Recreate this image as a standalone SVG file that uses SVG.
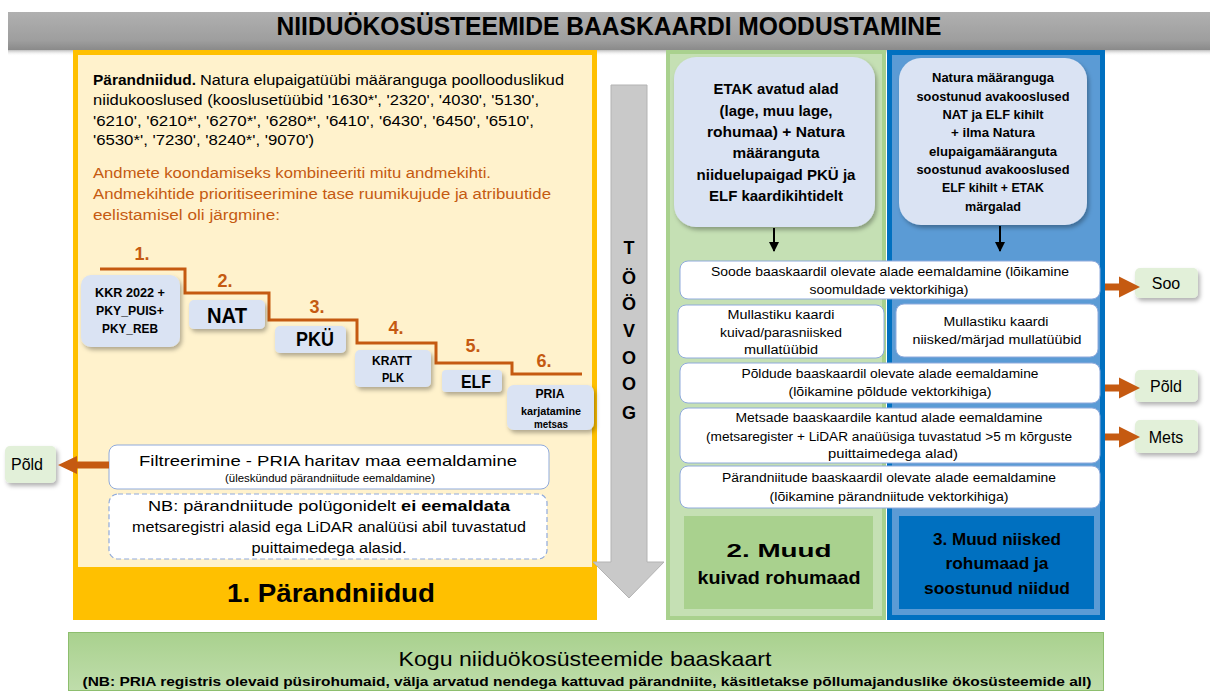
<svg xmlns="http://www.w3.org/2000/svg" width="1210" height="691" viewBox="0 0 1210 691">
  <defs>
    <style>
      text { font-family: "Liberation Sans", Arial, sans-serif; fill: #000; }
      .b { font-weight: bold; }
      .c { text-anchor: middle; }
      .or { fill: #C55A11; }
      .wbox { fill: #FFFFFF; stroke: #8FAADC; stroke-width: 1; }
      .lbox { fill: #DAE3F3; }
      .gbox { fill: #E2F0D9; }
      .step { fill: none; stroke: #C55A11; stroke-width: 3; }
    </style>
    <linearGradient id="titleGrad" x1="0" y1="0" x2="0" y2="1">
      <stop offset="0" stop-color="#B0B0B0"/>
      <stop offset="0.75" stop-color="#9E9E9E"/>
      <stop offset="1" stop-color="#8A8A8A"/>
    </linearGradient>
    <linearGradient id="shadeGrad" x1="0" y1="0" x2="0" y2="1">
      <stop offset="0" stop-color="#BDBDBD"/>
      <stop offset="1" stop-color="#FFFFFF" stop-opacity="0"/>
    </linearGradient>
    <linearGradient id="footGrad" x1="0" y1="0" x2="0" y2="1">
      <stop offset="0" stop-color="#A9D18E"/>
      <stop offset="1" stop-color="#BFDDAB"/>
    </linearGradient>
    <filter id="shadow" x="-20%" y="-20%" width="150%" height="160%">
      <feDropShadow dx="2" dy="3" stdDeviation="2" flood-color="#000" flood-opacity="0.3"/>
    </filter>
    <marker id="blackHead" viewBox="0 0 10 10" refX="9" refY="5" markerWidth="5" markerHeight="5" orient="auto">
      <path d="M0,0 L10,5 L0,10 Z" fill="#000"/>
    </marker>
    <!-- thick orange block arrow pointing right, origin at tail centre -->
    <path id="orangeArrow" d="M0,-3.5 H14 V-10.5 L35,0 L14,10.5 V3.5 H0 Z" fill="#C55A11"/>
  </defs>

  <rect width="1210" height="691" fill="#FFFFFF"/>

  <!-- title bar -->
  <g id="title">
    <rect x="8" y="50" width="1202" height="6" fill="url(#shadeGrad)"/>
    <rect x="8" y="12" width="1202" height="38" fill="url(#titleGrad)"/>
    <text x="609" y="35" class="b c" font-size="26" textLength="665" lengthAdjust="spacingAndGlyphs">NIIDUÖKOSÜSTEEMIDE BAASKAARDI MOODUSTAMINE</text>
  </g>

  <!-- column 1: heritage meadows -->
  <g id="panel-parandniidud">
    <rect x="75.5" y="52.5" width="519" height="565" fill="#FFF2CC" stroke="#FFC000" stroke-width="5"/>
    <rect x="73" y="567" width="524" height="53" fill="#FFC000"/>
    <text x="331" y="602" class="b c" font-size="26" textLength="208" lengthAdjust="spacingAndGlyphs">1. Pärandniidud</text>

    <text x="93" y="85" class="b" font-size="14" textLength="103" lengthAdjust="spacingAndGlyphs">Pärandniidud.</text>
    <text x="200" y="85" font-size="14" textLength="364" lengthAdjust="spacingAndGlyphs">Natura elupaigatüübi määranguga poollooduslikud</text>
    <text x="93" y="105" font-size="14" textLength="446" lengthAdjust="spacingAndGlyphs">niidukooslused (kooslusetüübid '1630*', '2320', '4030', '5130',</text>
    <text x="93" y="126" font-size="14" textLength="441" lengthAdjust="spacingAndGlyphs">'6210', '6210*', '6270*', '6280*', '6410', '6430', '6450', '6510',</text>
    <text x="93" y="145" font-size="14" textLength="221" lengthAdjust="spacingAndGlyphs">'6530*', '7230', '8240*', '9070')</text>

    <text x="93" y="178" class="or" font-size="14" textLength="398" lengthAdjust="spacingAndGlyphs">Andmete koondamiseks kombineeriti mitu andmekihti.</text>
    <text x="93" y="199" class="or" font-size="14" textLength="458" lengthAdjust="spacingAndGlyphs">Andmekihtide prioritiseerimine tase ruumikujude ja atribuutide</text>
    <text x="93" y="220" class="or" font-size="14" textLength="187" lengthAdjust="spacingAndGlyphs">eelistamisel oli järgmine:</text>
  </g>

  <!-- priority staircase of data layers -->
  <g id="priority-steps">
    <path class="step" d="M100,269 H185 V293 H269 V320 H357 V343 H436 V363 H512 V374 H582"/>
    <text x="142" y="260" class="b c or" font-size="18">1.</text>
    <text x="225" y="287" class="b c or" font-size="18">2.</text>
    <text x="317" y="313" class="b c or" font-size="18">3.</text>
    <text x="396" y="334" class="b c or" font-size="18">4.</text>
    <text x="473" y="352" class="b c or" font-size="18">5.</text>
    <text x="544" y="367" class="b c or" font-size="18">6.</text>
  </g>

  <g id="layer-kkr">
    <rect x="81" y="275" width="99" height="72" rx="10" class="lbox" filter="url(#shadow)"/>
    <text x="130" y="297" class="b c" font-size="12" textLength="70" lengthAdjust="spacingAndGlyphs">KKR 2022 +</text>
    <text x="130" y="315" class="b c" font-size="12" textLength="68" lengthAdjust="spacingAndGlyphs">PKY_PUIS+</text>
    <text x="130" y="333" class="b c" font-size="12" textLength="56" lengthAdjust="spacingAndGlyphs">PKY_REB</text>
  </g>
  <g id="layer-nat">
    <rect x="189" y="300" width="76" height="29" rx="5" class="lbox" filter="url(#shadow)"/>
    <text x="227" y="323" class="b c" font-size="22" textLength="40" lengthAdjust="spacingAndGlyphs">NAT</text>
  </g>
  <g id="layer-pku">
    <rect x="275" y="326" width="71" height="27" rx="5" class="lbox" filter="url(#shadow)"/>
    <text x="315" y="346" class="b c" font-size="20" textLength="38" lengthAdjust="spacingAndGlyphs">PKÜ</text>
  </g>
  <g id="layer-kratt">
    <rect x="355" y="350" width="76" height="37" rx="5" class="lbox" filter="url(#shadow)"/>
    <text x="392" y="365" class="b c" font-size="12" textLength="40" lengthAdjust="spacingAndGlyphs">KRATT</text>
    <text x="393" y="382" class="b c" font-size="12" textLength="22" lengthAdjust="spacingAndGlyphs">PLK</text>
  </g>
  <g id="layer-elf">
    <rect x="442" y="370" width="60" height="22" rx="4" class="lbox" filter="url(#shadow)"/>
    <text x="476" y="388" class="b c" font-size="19" textLength="30" lengthAdjust="spacingAndGlyphs">ELF</text>
  </g>
  <g id="layer-pria">
    <rect x="507" y="385" width="87" height="45" rx="7" class="lbox" filter="url(#shadow)"/>
    <text x="550" y="398" class="b c" font-size="12" textLength="29" lengthAdjust="spacingAndGlyphs">PRIA</text>
    <text x="551" y="415" class="b c" font-size="10" textLength="60" lengthAdjust="spacingAndGlyphs">karjatamine</text>
    <text x="551" y="428" class="b c" font-size="10" textLength="34" lengthAdjust="spacingAndGlyphs">metsas</text>
  </g>

  <g id="filter-pria">
    <rect x="109" y="445" width="440" height="44" rx="8" class="wbox" stroke="#7F9FD6"/>
    <text x="328" y="466" class="c" font-size="15" textLength="378" lengthAdjust="spacingAndGlyphs">Filtreerimine - PRIA haritav maa eemaldamine</text>
    <text x="330" y="482" class="c" font-size="10" textLength="210" lengthAdjust="spacingAndGlyphs">(üleskündud pärandniitude eemaldamine)</text>
  </g>
  <g id="note-forest">
    <rect x="109" y="494" width="438" height="65" rx="9" fill="#FFFFFF" stroke="#8FAADC" stroke-width="1.2" stroke-dasharray="5,3"/>
    <text x="329" y="511" class="c" font-size="14.5" textLength="362" lengthAdjust="spacingAndGlyphs">NB: pärandniitude polügonidelt <tspan class="b">ei eemaldata</tspan></text>
    <text x="329" y="532" class="c" font-size="14" textLength="394" lengthAdjust="spacingAndGlyphs">metsaregistri alasid ega LiDAR analüüsi abil tuvastatud</text>
    <text x="329" y="553" class="c" font-size="14" textLength="155" lengthAdjust="spacingAndGlyphs">puittaimedega alasid.</text>
  </g>

  <g id="out-pold-left">
    <rect x="5" y="446" width="51" height="37" rx="5" class="gbox" filter="url(#shadow)"/>
    <text x="27" y="470" class="c" font-size="16">Põld</text>
  </g>

  <!-- workflow arrow -->
  <g id="workflow">
    <polygon points="611,85 647,85 647,562 664,562 629,598 593,562 611,562" fill="#C9C9C9" stroke="#B3B3B3" stroke-width="1"/>
    <g class="b c" font-size="18">
      <text x="629" y="254" class="b c">T</text>
      <text x="629" y="284" class="b c">Ö</text>
      <text x="629" y="310" class="b c">Ö</text>
      <text x="629" y="337" class="b c">V</text>
      <text x="629" y="364" class="b c">O</text>
      <text x="629" y="390" class="b c">O</text>
      <text x="629" y="419" class="b c">G</text>
    </g>
  </g>

  <!-- columns 2 and 3 -->
  <g id="panel-kuivad">
    <rect x="668" y="52" width="216" height="566" fill="#C5E0B4" stroke="#A9D18E" stroke-width="4"/>
    <rect x="684" y="516" width="189" height="93" fill="#A9D18E"/>
    <text x="779" y="557" class="b c" font-size="19" textLength="105" lengthAdjust="spacingAndGlyphs">2. Muud</text>
    <text x="779" y="584" class="b c" font-size="19" textLength="163" lengthAdjust="spacingAndGlyphs">kuivad rohumaad</text>
  </g>
  <g id="panel-niisked">
    <rect x="889.5" y="52.5" width="213" height="565" fill="#5B9BD5" stroke="#0070C0" stroke-width="5"/>
    <rect x="899" y="516" width="195" height="93" fill="#0070C0"/>
    <text x="997" y="545" class="b c" font-size="17" textLength="128" lengthAdjust="spacingAndGlyphs">3. Muud niisked</text>
    <text x="997" y="569" class="b c" font-size="17" textLength="103" lengthAdjust="spacingAndGlyphs">rohumaad ja</text>
    <text x="997" y="594" class="b c" font-size="17" textLength="146" lengthAdjust="spacingAndGlyphs">soostunud niidud</text>
  </g>

  <g id="source-etak">
    <rect x="674" y="57" width="201" height="170" rx="22" class="lbox" filter="url(#shadow)"/>
    <text x="776" y="94" class="b c" font-size="14" textLength="125" lengthAdjust="spacingAndGlyphs">ETAK avatud alad</text>
    <text x="776" y="116" class="b c" font-size="14" textLength="113" lengthAdjust="spacingAndGlyphs">(lage, muu lage,</text>
    <text x="776" y="137" class="b c" font-size="14" textLength="138" lengthAdjust="spacingAndGlyphs">rohumaa) + Natura</text>
    <text x="776" y="158" class="b c" font-size="14" textLength="87" lengthAdjust="spacingAndGlyphs">määranguta</text>
    <text x="776" y="180" class="b c" font-size="14" textLength="159" lengthAdjust="spacingAndGlyphs">niiduelupaigad PKÜ ja</text>
    <text x="776" y="201" class="b c" font-size="14" textLength="134" lengthAdjust="spacingAndGlyphs">ELF kaardikihtidelt</text>
  </g>
  <g id="source-natura">
    <rect x="899" y="58" width="188" height="167" rx="22" class="lbox" filter="url(#shadow)"/>
    <text x="993" y="82" class="b c" font-size="12" textLength="122" lengthAdjust="spacingAndGlyphs">Natura määranguga</text>
    <text x="993" y="101" class="b c" font-size="12" textLength="153" lengthAdjust="spacingAndGlyphs">soostunud avakooslused</text>
    <text x="993" y="119" class="b c" font-size="12" textLength="101" lengthAdjust="spacingAndGlyphs">NAT ja ELF kihilt</text>
    <text x="993" y="137" class="b c" font-size="12" textLength="84" lengthAdjust="spacingAndGlyphs">+ ilma Natura</text>
    <text x="993" y="156" class="b c" font-size="12" textLength="128" lengthAdjust="spacingAndGlyphs">elupaigamääranguta</text>
    <text x="993" y="174" class="b c" font-size="12" textLength="153" lengthAdjust="spacingAndGlyphs">soostunud avakooslused</text>
    <text x="993" y="192" class="b c" font-size="12" textLength="102" lengthAdjust="spacingAndGlyphs">ELF kihilt + ETAK</text>
    <text x="993" y="211" class="b c" font-size="12" textLength="56" lengthAdjust="spacingAndGlyphs">märgalad</text>
  </g>

  <g id="step-soo">
    <rect x="680" y="261" width="420" height="38" rx="8" class="wbox"/>
    <text x="890" y="276" class="c" font-size="12.5" textLength="358" lengthAdjust="spacingAndGlyphs">Soode baaskaardil olevate alade  eemaldamine (lõikamine</text>
    <text x="889" y="294" class="c" font-size="12.5" textLength="159" lengthAdjust="spacingAndGlyphs">soomuldade vektorkihiga)</text>
  </g>
  <g id="step-mullad-kuivad">
    <rect x="678" y="305" width="206" height="53" rx="8" class="wbox"/>
    <text x="781" y="319" class="c" font-size="12.5" textLength="107" lengthAdjust="spacingAndGlyphs">Mullastiku kaardi</text>
    <text x="781" y="337" class="c" font-size="12.5" textLength="122" lengthAdjust="spacingAndGlyphs">kuivad/parasniisked</text>
    <text x="781" y="354" class="c" font-size="12.5" textLength="74" lengthAdjust="spacingAndGlyphs">mullatüübid</text>
  </g>
  <g id="step-mullad-niisked">
    <rect x="896" y="304" width="202" height="53" rx="8" class="wbox"/>
    <text x="996" y="326" class="c" font-size="12.5" textLength="105" lengthAdjust="spacingAndGlyphs">Mullastiku kaardi</text>
    <text x="997" y="344" class="c" font-size="12.5" textLength="169" lengthAdjust="spacingAndGlyphs">niisked/märjad mullatüübid</text>
  </g>
  <g id="step-pold">
    <rect x="680" y="363" width="420" height="40" rx="8" class="wbox"/>
    <text x="890" y="378" class="c" font-size="12.5" textLength="297" lengthAdjust="spacingAndGlyphs">Põldude baaskaardil olevate alade eemaldamine</text>
    <text x="890" y="396" class="c" font-size="12.5" textLength="203" lengthAdjust="spacingAndGlyphs">(lõikamine põldude vektorkihiga)</text>
  </g>
  <g id="step-mets">
    <rect x="680" y="408" width="420" height="55" rx="8" class="wbox"/>
    <text x="889" y="422" class="c" font-size="12.5" textLength="307" lengthAdjust="spacingAndGlyphs">Metsade baaskaardile kantud alade eemaldamine</text>
    <text x="889" y="441" class="c" font-size="12.5" textLength="366" lengthAdjust="spacingAndGlyphs">(metsaregister + LiDAR anaüüsiga tuvastatud &gt;5 m kõrguste</text>
    <text x="893" y="458" class="c" font-size="12.5" textLength="130" lengthAdjust="spacingAndGlyphs">puittaimedega alad)</text>
  </g>
  <g id="step-parandniidud">
    <rect x="680" y="466" width="420" height="42" rx="8" class="wbox"/>
    <text x="889" y="482" class="c" font-size="12.5" textLength="334" lengthAdjust="spacingAndGlyphs">Pärandniitude baaskaardil olevate alade eemaldamine</text>
    <text x="889" y="501" class="c" font-size="12.5" textLength="239" lengthAdjust="spacingAndGlyphs">(lõikamine pärandniitude vektorkihiga)</text>
  </g>

  <g id="out-soo">
    <rect x="1135" y="268" width="63" height="30" rx="5" class="gbox" filter="url(#shadow)"/>
    <text x="1166" y="289" class="c" font-size="16">Soo</text>
  </g>
  <g id="out-pold">
    <rect x="1135" y="370" width="63" height="32" rx="5" class="gbox" filter="url(#shadow)"/>
    <text x="1166" y="392" class="c" font-size="16">Põld</text>
  </g>
  <g id="out-mets">
    <rect x="1135" y="420" width="63" height="33" rx="5" class="gbox" filter="url(#shadow)"/>
    <text x="1166" y="443" class="c" font-size="16">Mets</text>
  </g>

  <!-- connectors -->
  <g id="connectors">
    <line x1="774" y1="228" x2="774" y2="251" stroke="#000" stroke-width="2" marker-end="url(#blackHead)"/>
    <line x1="1000" y1="226" x2="1000" y2="251" stroke="#000" stroke-width="2" marker-end="url(#blackHead)"/>
    <use href="#orangeArrow" transform="translate(1105,287)"/>
    <use href="#orangeArrow" transform="translate(1105,388)"/>
    <use href="#orangeArrow" transform="translate(1105,437)"/>
    <path d="M109,461.5 H77 V456 L58,465 L77,474 V468.5 H109 Z" fill="#C55A11"/>
  </g>

  <!-- combined base map -->
  <g id="result">
    <rect x="68.5" y="632.5" width="1035" height="58" fill="url(#footGrad)" stroke="#8DBE6E" stroke-width="1"/>
    <text x="585" y="666" class="c" font-size="21" textLength="373" lengthAdjust="spacingAndGlyphs">Kogu niiduökosüsteemide baaskaart</text>
    <text x="587" y="686" class="b c" font-size="13" textLength="1009" lengthAdjust="spacingAndGlyphs">(NB: PRIA registris olevaid püsirohumaid, välja arvatud nendega kattuvad pärandniite, käsitletakse põllumajanduslike ökosüsteemide all)</text>
  </g>
</svg>
